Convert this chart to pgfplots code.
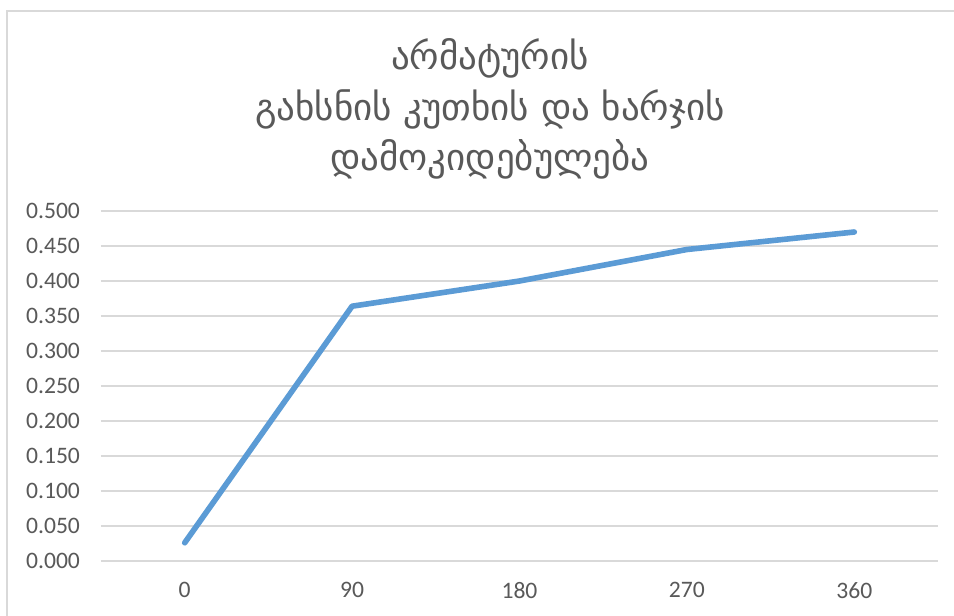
\documentclass[border=0pt]{standalone}
\usepackage{pgfplots}
\pgfplotsset{compat=1.18}
\usepackage{fontspec}
\setmainfont{Carlito}
\newfontfamily\geo{DejaVu Sans}
\definecolor{txt}{HTML}{595959}
\definecolor{gridc}{HTML}{D9D9D9}
\definecolor{ser}{HTML}{5B9BD5}
\begin{document}
\begin{tikzpicture}[x=0.5pt,y=0.5pt]
\useasboundingbox (0,0) rectangle (954,616);
\clip (0,0) rectangle (954,616);
\fill[white] (0,0) rectangle (954,616);
\draw[gridc, line width=1pt] (7,-50) -- (7,605) -- (1000,605);
\coordinate (O) at (101,55);
\node[text=txt, font=\geo\fontsize{18.5}{25}\selectfont, anchor=center] at (490,558) {არმატურის};
\node[text=txt, font=\geo\fontsize{18.5}{25}\selectfont, anchor=center] at (490,507) {გახსნის კუთხის და ხარჯის};
\node[text=txt, font=\geo\fontsize{18.5}{25}\selectfont, anchor=center] at (490,457) {დამოკიდებულება};
\begin{axis}[
  at={(O)}, anchor=south west,
  scale only axis, width=418.5pt, height=175pt,
  xmin=-0.5, xmax=4.5, ymin=0, ymax=0.5,
  xtick={0,1,2,3,4}, xticklabels={0,90,180,270,360},
  ytick={0,0.05,...,0.51},
  axis line style={draw=none},
  major tick length=0pt,
  ymajorgrids, grid style={gridc, line width=0.7pt},
  ticklabel style={text=txt, font=\fontsize{11.8}{13}\selectfont},
  /pgf/number format/assume math mode=true,
  yticklabel style={/pgf/number format/fixed, /pgf/number format/fixed zerofill, /pgf/number format/precision=3, xshift=-7pt},
  xticklabel style={yshift=-7pt},
  clip=false,
]
\addplot[ser, line width=2.8pt, line cap=round, line join=round] coordinates {
  (0,0.026) (1,0.364) (2,0.400) (3,0.445) (4,0.470)
};
\end{axis}
\end{tikzpicture}
\end{document}
